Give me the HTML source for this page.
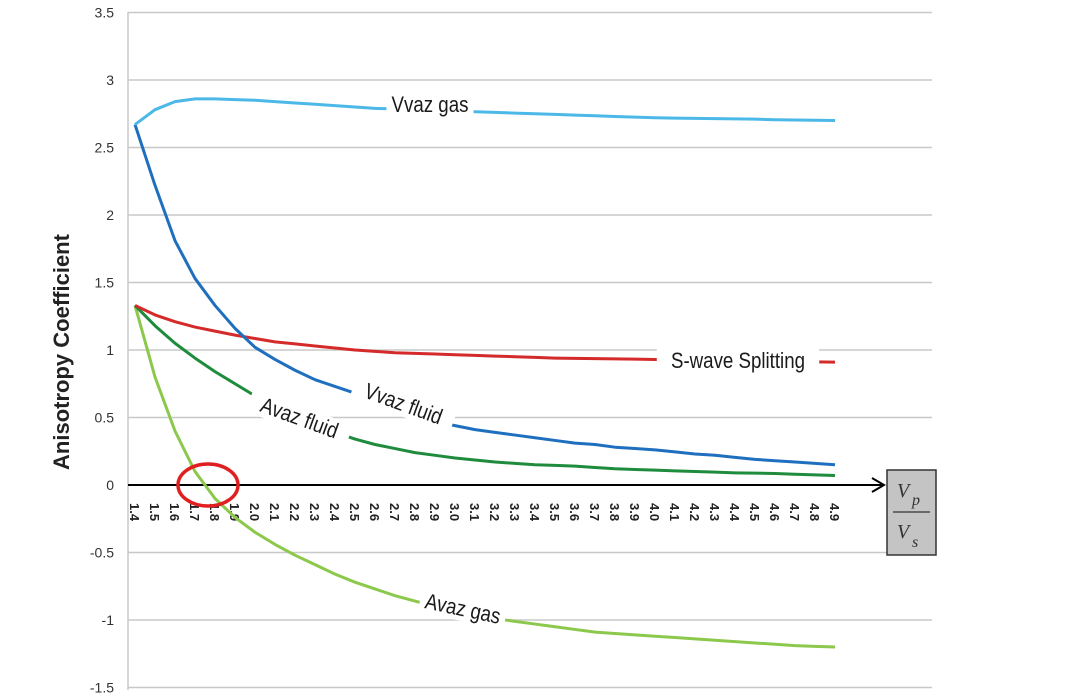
<!DOCTYPE html>
<html><head><meta charset="utf-8"><style>
body{margin:0;background:#fff;}
svg{display:block;font-family:"Liberation Sans",sans-serif;}
</style></head><body>
<svg id="c" width="1090" height="700">
<g id="grid"></g><g id="series"></g><g id="labels"></g>
</svg>
<script>
const categories=[1.4,1.5,1.6,1.7,1.8,1.9,2.0,2.1,2.2,2.3,2.4,2.5,2.6,2.7,2.8,2.9,3.0,3.1,3.2,3.3,3.4,3.5,3.6,3.7,3.8,3.9,4.0,4.1,4.2,4.3,4.4,4.5,4.6,4.7,4.8,4.9];
const yTicks=[3.5,3,2.5,2,1.5,1,0.5,0,-0.5,-1,-1.5];
const vvazGas=[2.67,2.78,2.84,2.86,2.86,2.855,2.85,2.84,2.83,2.82,2.81,2.80,2.79,2.785,2.78,2.775,2.77,2.765,2.76,2.755,2.75,2.745,2.74,2.735,2.73,2.725,2.72,2.718,2.716,2.714,2.712,2.71,2.706,2.704,2.702,2.70];
const vvazFluid=[2.67,2.22,1.81,1.53,1.33,1.16,1.02,0.93,0.85,0.78,0.73,0.68,0.62,0.56,0.51,0.47,0.44,0.41,0.39,0.37,0.35,0.33,0.31,0.30,0.28,0.27,0.26,0.245,0.23,0.22,0.205,0.19,0.18,0.17,0.16,0.15];
const sWave=[1.33,1.26,1.21,1.17,1.14,1.11,1.085,1.06,1.045,1.03,1.015,1.0,0.99,0.98,0.975,0.97,0.965,0.96,0.955,0.95,0.945,0.94,0.938,0.936,0.934,0.932,0.93,0.927,0.925,0.922,0.92,0.918,0.916,0.914,0.912,0.91];
const avazFluid=[1.33,1.18,1.05,0.94,0.84,0.75,0.66,0.58,0.51,0.45,0.39,0.34,0.30,0.27,0.24,0.22,0.20,0.185,0.17,0.16,0.15,0.145,0.14,0.13,0.12,0.115,0.11,0.105,0.10,0.095,0.09,0.088,0.085,0.08,0.075,0.07];
const avazGas=[1.33,0.80,0.40,0.10,-0.10,-0.24,-0.35,-0.44,-0.52,-0.59,-0.66,-0.72,-0.77,-0.82,-0.86,-0.90,-0.93,-0.96,-0.99,-1.01,-1.03,-1.05,-1.07,-1.09,-1.10,-1.11,-1.12,-1.13,-1.14,-1.15,-1.16,-1.17,-1.18,-1.19,-1.195,-1.20];
const NS='http://www.w3.org/2000/svg';
const xS=i=>135+i*20;
const yS=v=>485-v*135;
function mk(t,p,a){const e=document.createElementNS(NS,t);for(const k in a)e.setAttribute(k,a[k]);p.appendChild(e);return e;}
const G=document.getElementById('grid'),S=document.getElementById('series'),L=document.getElementById('labels');
yTicks.forEach(v=>{
 if(v!==0){const l=mk('line',G,{x1:128,x2:932,y1:yS(v),y2:yS(v),stroke:'#c8c8c8','stroke-width':1.5});
 
 }
 const t=mk('text',G,{x:114,y:yS(v)+5,'text-anchor':'end','font-size':14,fill:'#333'});t.textContent=v;
 
 
});
const ax=mk('line',G,{x1:128,x2:128,y1:12,y2:690,stroke:'#c8c8c8','stroke-width':1.5});


categories.forEach((c,i)=>{
 const t=mk('text',G,{x:0,y:0,'font-size':13,'font-weight':'bold',fill:'#222',transform:`translate(${xS(i)-5},503) rotate(90)`});
 t.textContent=c.toFixed(1);
 
 
});
const arr=mk('path',G,{d:'M128 485 L883 485 M872 478 L884 485 L872 492',stroke:'#000','stroke-width':2,fill:'none'});


function line(data,color,name){
 const p=mk('path',S,{d:data.map((v,i)=>(i?'L':'M')+xS(i)+' '+yS(v)).join(' '),stroke:color,'stroke-width':3,fill:'none','stroke-linejoin':'round'});
 
 
}
line(avazGas,'#8cc84b','avaz-gas-line');
line(avazFluid,'#1e8c3c','avaz-fluid-line');
line(sWave,'#d42a2a','s-wave-splitting-line');
line(vvazFluid,'#1f6fbf','vvaz-fluid-line');
line(vvazGas,'#4cb8e8','vvaz-gas-line');
function lab(txt,x,y,rot,name){
 const g=mk('g',L,{transform:`translate(${x},${y}) rotate(${rot})`});
 const w=txt.length*9.4;
 mk('rect',g,{x:-w/2-6,y:-16,width:w+12,height:24,fill:'#fff'});
 const t=mk('text',g,{x:0,y:3,'text-anchor':'middle','font-size':22,fill:'#1a1a1a',transform:'scale(0.85,1)'});
 t.textContent=txt;
 
 
}
lab('Vvaz gas',430,109,0,'vvaz-gas-label');
lab('S-wave Splitting',738,365,0,'s-wave-splitting-label');
lab('Vvaz fluid',402,408,20,'vvaz-fluid-label');
lab('Avaz fluid',298,422,20,'avaz-fluid-label');
lab('Avaz gas',462,613,12,'avaz-gas-label');
const el=mk('ellipse',L,{cx:208,cy:485,rx:30,ry:21,fill:'none',stroke:'#e02020','stroke-width':3.5});


const bx=mk('g',L,{});


mk('rect',bx,{x:887,y:470,width:49,height:85,fill:'#c4c4c4',stroke:'#333','stroke-width':1.5});
let t=mk('text',bx,{x:897,y:497,'font-family':'Liberation Serif','font-style':'italic','font-size':20,fill:'#333'});t.textContent='V';
t=mk('text',bx,{x:912,y:505,'font-family':'Liberation Serif','font-style':'italic','font-size':16,fill:'#333'});t.textContent='p';
mk('line',bx,{x1:893,x2:930,y1:512,y2:512,stroke:'#333','stroke-width':1.2});
t=mk('text',bx,{x:897,y:538,'font-family':'Liberation Serif','font-style':'italic','font-size':20,fill:'#333'});t.textContent='V';
t=mk('text',bx,{x:912,y:547,'font-family':'Liberation Serif','font-style':'italic','font-size':16,fill:'#333'});t.textContent='s';
const yt=mk('text',L,{x:0,y:0,'text-anchor':'middle','font-size':22,'font-weight':'bold',fill:'#222',transform:'translate(69,352) rotate(-90)'});
yt.textContent='Anisotropy Coefficient';


</script>
</body></html>
